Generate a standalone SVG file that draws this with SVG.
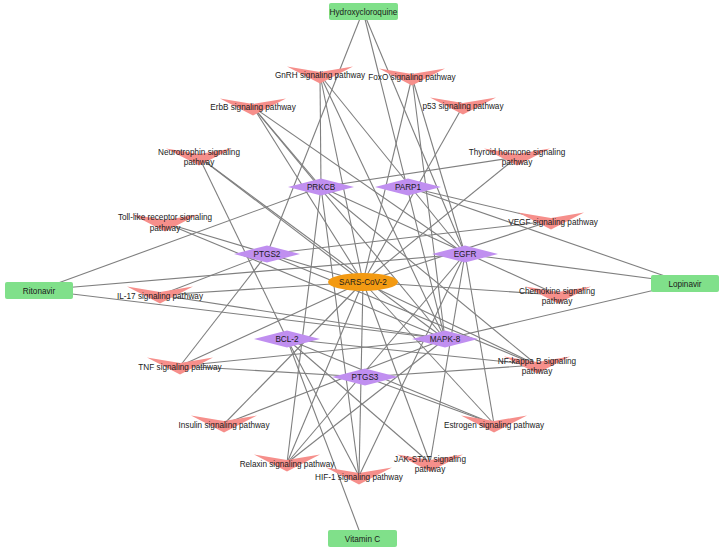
<svg xmlns="http://www.w3.org/2000/svg" width="723" height="549" viewBox="0 0 723 549">
<style>
.e{stroke:#7f7f7f;stroke-width:1.1;fill:none}
.pw{fill:#f68f8b}
.gn{fill:#c08ff0}
.dr{fill:#80e08a}
.sc{fill:#f39a12}
text{font-family:"Liberation Sans",Arial,sans-serif;font-size:8.2px;fill:#1a1a1a;text-anchor:middle}
</style>
<defs>
<polygon id="vs" class="pw" points="-33,-8.5 0,-3 33,-8.5 0,8.5"/>
<polygon id="dm" class="gn" points="-33,0 0,-8.5 33,0 0,8.5"/>
</defs>
<rect width="723" height="549" fill="#fff"/>
<g id="connectors">
<line class="e" x1="363" y1="11" x2="267" y2="254"/>
<line class="e" x1="363" y1="11" x2="465" y2="254"/>
<line class="e" x1="363" y1="11" x2="445" y2="339"/>
<line class="e" x1="39" y1="290" x2="321" y2="187"/>
<line class="e" x1="39" y1="290" x2="465" y2="254"/>
<line class="e" x1="39" y1="290" x2="445" y2="339"/>
<line class="e" x1="685" y1="283" x2="408" y2="187"/>
<line class="e" x1="685" y1="283" x2="465" y2="254"/>
<line class="e" x1="685" y1="283" x2="445" y2="339"/>
<line class="e" x1="362" y1="538" x2="287" y2="339"/>
<line class="e" x1="363" y1="282" x2="320" y2="75"/>
<line class="e" x1="363" y1="282" x2="412" y2="77"/>
<line class="e" x1="363" y1="282" x2="253" y2="107"/>
<line class="e" x1="363" y1="282" x2="463" y2="106"/>
<line class="e" x1="363" y1="282" x2="199" y2="157"/>
<line class="e" x1="363" y1="282" x2="517" y2="157"/>
<line class="e" x1="363" y1="282" x2="551" y2="221"/>
<line class="e" x1="363" y1="282" x2="165" y2="223"/>
<line class="e" x1="363" y1="282" x2="160" y2="295"/>
<line class="e" x1="363" y1="282" x2="558" y2="295"/>
<line class="e" x1="363" y1="282" x2="537" y2="365"/>
<line class="e" x1="363" y1="282" x2="180" y2="366"/>
<line class="e" x1="363" y1="282" x2="224" y2="424"/>
<line class="e" x1="363" y1="282" x2="494" y2="424"/>
<line class="e" x1="363" y1="282" x2="287" y2="463"/>
<line class="e" x1="363" y1="282" x2="430" y2="463"/>
<line class="e" x1="363" y1="282" x2="359" y2="476"/>
<line class="e" x1="465" y1="254" x2="253" y2="107"/>
<line class="e" x1="465" y1="254" x2="320" y2="75"/>
<line class="e" x1="465" y1="254" x2="412" y2="77"/>
<line class="e" x1="465" y1="254" x2="359" y2="476"/>
<line class="e" x1="465" y1="254" x2="430" y2="463"/>
<line class="e" x1="465" y1="254" x2="494" y2="424"/>
<line class="e" x1="465" y1="254" x2="287" y2="463"/>
<line class="e" x1="445" y1="339" x2="253" y2="107"/>
<line class="e" x1="445" y1="339" x2="320" y2="75"/>
<line class="e" x1="445" y1="339" x2="412" y2="77"/>
<line class="e" x1="445" y1="339" x2="199" y2="157"/>
<line class="e" x1="445" y1="339" x2="165" y2="223"/>
<line class="e" x1="445" y1="339" x2="160" y2="295"/>
<line class="e" x1="445" y1="339" x2="180" y2="366"/>
<line class="e" x1="445" y1="339" x2="224" y2="424"/>
<line class="e" x1="445" y1="339" x2="287" y2="463"/>
<line class="e" x1="321" y1="187" x2="253" y2="107"/>
<line class="e" x1="321" y1="187" x2="320" y2="75"/>
<line class="e" x1="408" y1="187" x2="551" y2="221"/>
<line class="e" x1="321" y1="187" x2="558" y2="295"/>
<line class="e" x1="321" y1="187" x2="517" y2="157"/>
<line class="e" x1="321" y1="187" x2="359" y2="476"/>
<line class="e" x1="321" y1="187" x2="537" y2="365"/>
<line class="e" x1="321" y1="187" x2="287" y2="463"/>
<line class="e" x1="287" y1="339" x2="199" y2="157"/>
<line class="e" x1="287" y1="339" x2="430" y2="463"/>
<line class="e" x1="287" y1="339" x2="537" y2="365"/>
<line class="e" x1="287" y1="339" x2="359" y2="476"/>
<line class="e" x1="287" y1="339" x2="494" y2="424"/>
<line class="e" x1="267" y1="254" x2="551" y2="221"/>
<line class="e" x1="267" y1="254" x2="180" y2="366"/>
<line class="e" x1="267" y1="254" x2="537" y2="365"/>
<line class="e" x1="267" y1="254" x2="160" y2="295"/>
<line class="e" x1="365" y1="377" x2="180" y2="366"/>
<line class="e" x1="365" y1="377" x2="537" y2="365"/>
<line class="e" x1="365" y1="377" x2="494" y2="424"/>
</g>
<g id="n-gnrh"><use href="#vs" x="320" y="75"/><text x="320" y="78">GnRH signaling pathway</text></g>
<g id="n-foxo"><use href="#vs" x="412" y="77"/><text x="412" y="80">FoxO signaling pathway</text></g>
<g id="n-erbb"><use href="#vs" x="253" y="107"/><text x="253" y="110">ErbB signaling pathway</text></g>
<g id="n-p53"><use href="#vs" x="463" y="106"/><text x="463" y="109">p53 signaling pathway</text></g>
<g id="n-neuro"><use href="#vs" x="199" y="157"/><text x="199" y="155">Neurotrophin signaling</text><text x="199" y="165">pathway</text></g>
<g id="n-thyroid"><use href="#vs" x="517" y="157"/><text x="517" y="155">Thyroid hormone signaling</text><text x="517" y="165">pathway</text></g>
<g id="n-vegf"><use href="#vs" x="551" y="221"/><text x="553" y="225">VEGF signaling pathway</text></g>
<g id="n-toll"><use href="#vs" x="165" y="223"/><text x="165" y="220">Toll-like receptor signaling</text><text x="165" y="231">pathway</text></g>
<g id="n-il17"><use href="#vs" x="160" y="295"/><text x="160" y="299">IL-17 signaling pathway</text></g>
<g id="n-chemokine"><use href="#vs" x="558" y="295"/><text x="557" y="294">Chemokine signaling</text><text x="557" y="304">pathway</text></g>
<g id="n-nfkb"><use href="#vs" x="537" y="365"/><text x="537" y="364">NF-kappa B signaling</text><text x="537" y="374">pathway</text></g>
<g id="n-tnf"><use href="#vs" x="180" y="366"/><text x="180" y="370">TNF signaling pathway</text></g>
<g id="n-insulin"><use href="#vs" x="224" y="424"/><text x="224" y="428">Insulin signaling pathway</text></g>
<g id="n-estrogen"><use href="#vs" x="494" y="424"/><text x="494" y="428">Estrogen signaling pathway</text></g>
<g id="n-relaxin"><use href="#vs" x="287" y="463"/><text x="287" y="467">Relaxin signaling pathway</text></g>
<g id="n-jak"><use href="#vs" x="430" y="463"/><text x="430" y="462">JAK-STAT signaling</text><text x="430" y="472">pathway</text></g>
<g id="n-hif1"><use href="#vs" x="359" y="476"/><text x="359" y="480">HIF-1 signaling pathway</text></g>
<g id="n-prkcb"><use href="#dm" x="321" y="187"/><text x="321" y="190">PRKCB</text></g>
<g id="n-parp1"><use href="#dm" x="408" y="187"/><text x="408" y="190">PARP1</text></g>
<g id="n-ptgs2"><use href="#dm" x="267" y="254"/><text x="267" y="257">PTGS2</text></g>
<g id="n-egfr"><use href="#dm" x="465" y="254"/><text x="465" y="257">EGFR</text></g>
<g id="n-bcl2"><use href="#dm" x="287" y="339"/><text x="287" y="342">BCL-2</text></g>
<g id="n-mapk8"><use href="#dm" x="445" y="339"/><text x="445" y="342">MAPK-8</text></g>
<g id="n-ptgs3"><use href="#dm" x="365" y="377"/><text x="365" y="380">PTGS3</text></g>
<g id="n-sars"><ellipse class="sc" cx="363" cy="282" rx="35" ry="9"/><text x="363" y="285">SARS-CoV-2</text></g>
<g id="n-hcq"><rect class="dr" x="329" y="3" width="69" height="17" rx="2"/><text x="363.5" y="14.5">Hydroxycloroquine</text></g>
<g id="n-rit"><rect class="dr" x="5" y="282" width="68" height="17" rx="2"/><text x="39" y="293.5">Ritonavir</text></g>
<g id="n-lop"><rect class="dr" x="651" y="275" width="68" height="17" rx="2"/><text x="685" y="286.5">Lopinavir</text></g>
<g id="n-vitc"><rect class="dr" x="328" y="530" width="69" height="17" rx="2"/><text x="362.5" y="541.5">Vitamin C</text></g>
</svg>
